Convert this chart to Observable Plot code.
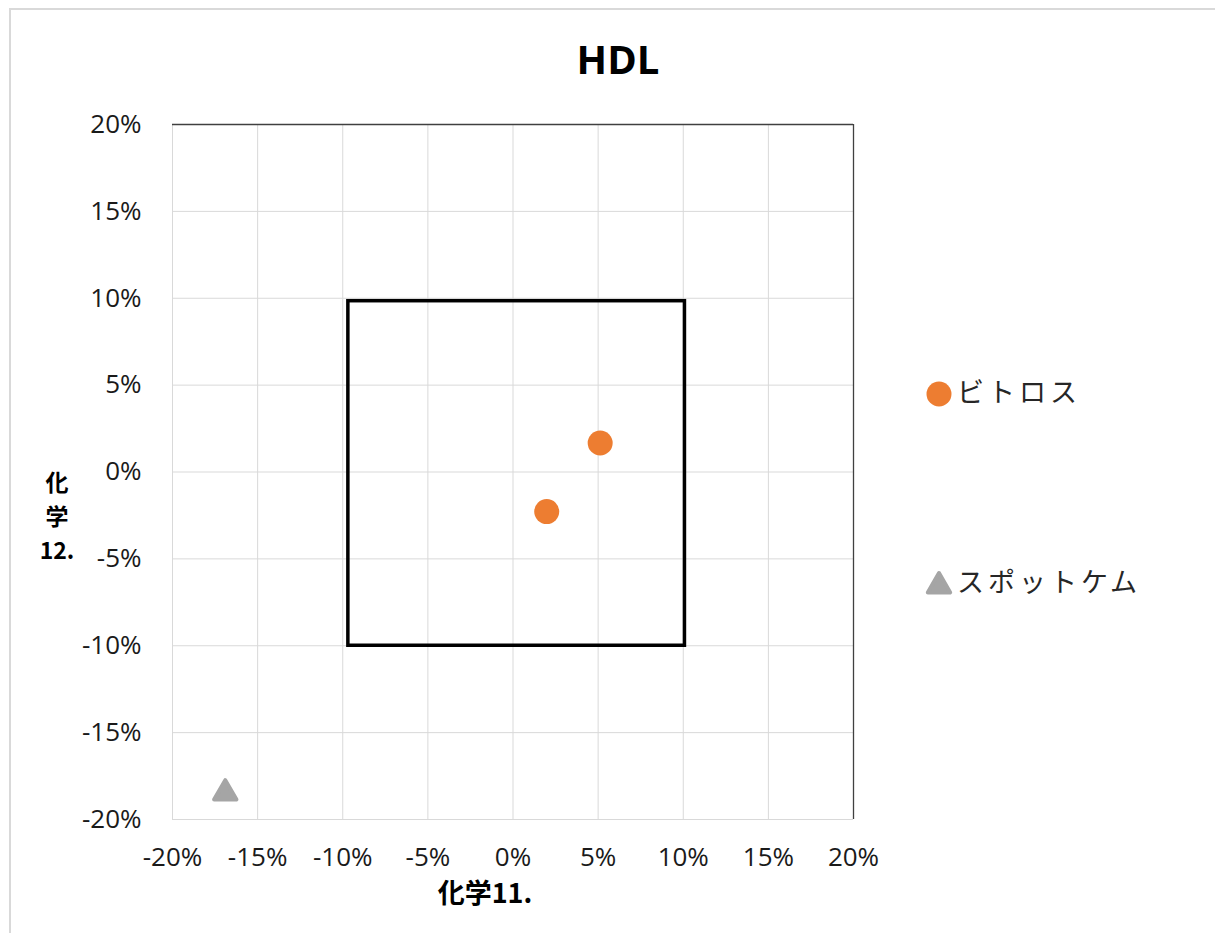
<!DOCTYPE html>
<html>
<head>
<meta charset="utf-8">
<script src="https://cdn.jsdelivr.net/npm/d3@7"></script>
<script src="https://cdn.jsdelivr.net/npm/@observablehq/plot@0.6"></script>
<style>
  html, body { margin: 0; padding: 0; background: #fff; }
  #chart svg { display: block; }
</style>
</head>
<body>
<div id="chart"></div>
<script>
// ---- data ----
const title = "HDL";
const xLabel = "化学11.";
const yLabelLines = ["化", "学", "12."];
const seriesNames = ["ビトロス", "スポットケム"];
const seriesColors = ["#ED7D31", "#A5A5A5"];
const vitrosX = [0.0512, 0.0198];
const vitrosY = [0.0167, -0.0228];
const spotchemX = [-0.169];
const spotchemY = [-0.1848];
const boxX = [-0.0967, 0.101];
const boxY = [-0.100, 0.0983];
const tickValues = [-0.20, -0.15, -0.10, -0.05, 0, 0.05, 0.10, 0.15, 0.20];
const domain = [-0.2, 0.2];

const vitros = vitrosX.map((x, i) => ({x, y: vitrosY[i]}));
const spotchem = spotchemX.map((x, i) => ({x, y: spotchemY[i]}));
const box = [{x1: boxX[0], x2: boxX[1], y1: boxY[0], y2: boxY[1]}];
const fmt = d => `${Math.round(d * 100)}%`;

const W = 1215, H = 933;
const plot = Plot.plot({
  width: W,
  height: H,
  marginLeft: 172,
  marginRight: 362,
  marginTop: 124,
  marginBottom: 114,
  style: {fontFamily: "'Open Sans', sans-serif", fontSize: "26px", color: "#1a1a1a", background: "#fff"},
  x: {domain, ticks: tickValues, tickFormat: fmt, label: null},
  y: {domain, ticks: tickValues, tickFormat: fmt, label: null},
  marks: [
    Plot.ruleX(tickValues, {stroke: "#d9d9d9", strokeWidth: 1}),
    Plot.ruleY(tickValues, {stroke: "#d9d9d9", strokeWidth: 1}),
    Plot.ruleX([domain[1]], {stroke: "#404040", strokeWidth: 1.3}),
    Plot.ruleY([domain[1]], {stroke: "#404040", strokeWidth: 1.3}),
    Plot.rect(box, {x1: "x1", x2: "x2", y1: "y1", y2: "y2", fill: "none", stroke: "#000", strokeWidth: 3.5}),
    Plot.dot(vitros, {x: "x", y: "y", r: 12.5, fill: seriesColors[0], stroke: "none"}),
    Plot.dot(spotchem, {x: "x", y: "y", symbol: "triangle", r: 8.3, fill: seriesColors[1], stroke: seriesColors[1], strokeWidth: 4, strokeLinejoin: "round"}),
    Plot.axisX({ticks: tickValues, tickFormat: fmt, tickSize: 0, tickPadding: 28, fontSize: 26, label: null}),
    Plot.axisY({ticks: tickValues, tickFormat: fmt, tickSize: 0, tickPadding: 31, fontSize: 26, label: null})
  ]
});

document.getElementById("chart").appendChild(plot);

// ---- annotations (title, axis titles, legend, outer border) ----
const svg = d3.select(plot);
svg.append("rect")
  .attr("x", 10).attr("y", 9).attr("width", W + 20).attr("height", H + 20)
  .attr("fill", "none").attr("stroke", "#d9d9d9").attr("stroke-width", 2);

svg.append("text")
  .attr("x", 618).attr("y", 74)
  .attr("text-anchor", "middle")
  .attr("font-family", "'Open Sans', sans-serif")
  .attr("font-weight", "bold").attr("font-size", 40)
  .attr("fill", "#000")
  .text(title);

const cjk = "'Noto Sans CJK JP', 'Noto Sans', sans-serif";
svg.append("text")
  .attr("x", 485).attr("y", 903)
  .attr("text-anchor", "middle")
  .attr("font-family", cjk).attr("font-weight", "bold").attr("font-size", 27)
  .attr("fill", "#000")
  .text(xLabel);

const yBase = [491, 525, 559];
yLabelLines.forEach((s, i) => {
  svg.append("text")
    .attr("x", 57).attr("y", yBase[i])
    .attr("text-anchor", "middle")
    .attr("font-family", cjk).attr("font-weight", "bold").attr("font-size", 23)
    .attr("fill", "#000")
    .text(s);
});

// legend
const legendY = [394, 586];
const lg = svg.append("g");
lg.append("circle").attr("cx", 939).attr("cy", legendY[0]).attr("r", 12.5).attr("fill", seriesColors[0]);
lg.append("path")
  .attr("transform", `translate(939,${legendY[1]})`)
  .attr("d", d3.symbol(d3.symbolTriangle, Math.PI * 8.3 * 8.3)())
  .attr("fill", seriesColors[1]).attr("stroke", seriesColors[1])
  .attr("stroke-width", 4).attr("stroke-linejoin", "round");
seriesNames.forEach((name, i) => {
  lg.append("text")
    .attr("x", 957).attr("y", [402, 592][i])
    .attr("text-anchor", "start")
    .attr("font-family", cjk).attr("font-size", 27)
    .attr("letter-spacing", 4)
    .attr("fill", "#262626")
    .text(name);
});
</script>
</body>
</html>
